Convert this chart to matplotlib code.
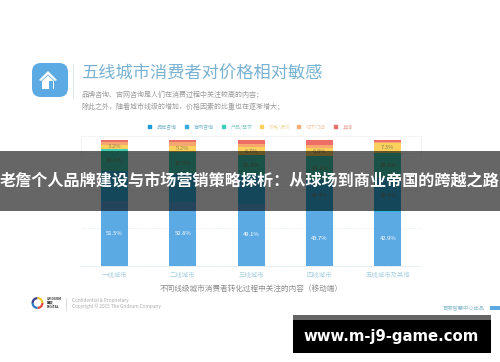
import matplotlib
matplotlib.use("Agg")
import numpy as np
import matplotlib.pyplot as plt
from matplotlib.patches import FancyBboxPatch, Rectangle, Polygon, Wedge

plt.rcParams['font.family'] = ['Noto Sans CJK SC', 'DejaVu Sans']

# === Data ===
cities = ["一线城市", "二线城市", "三线城市", "四线城市", "五线城市及其他"]
series_names = ["品牌咨询", "官网咨询", "产品/需求", "价格/报价", "线下门店", "其他"]
brand = [51.5, 50.8, 49.1, 43.7, 42.9]
website = [23.5, 22.0, 23.3, 24.3, 26.5]
product = [18.1, 17.5, 15.3, 19.2, 20.6]
price = [3.2, 5.2, 6.7, 6.8, 7.3]
offline = [2.4, 3.0, 2.4, 2.3, 1.5]
other = [1.3, 1.5, 3.2, 3.7, 1.2]
all_series = [brand, website, product, price, offline, other]

# which bars carry a readable value label, per series (the rest sit behind the banner text)
labelled = [
    [True, True, True, True, True],
    [False, False, False, True, True],
    [True, True, True, True, True],
    [True, True, True, True, True],
    [False, False, False, False, False],
    [False, False, False, False, False],
]

bar_colors = ["#5BAAE4", "#34B2E0", "#45CDB4", "#FBD05C", "#F6A86E", "#EC6E66"]
legend_colors = ["#1E9AD6", "#38A9DC", "#3FCDBB", "#FBD05C", "#F3AE78", "#E96F6B"]
legend_text_colors = ["#7FB8CC", "#7FB8CC", "#8CCFC4", "#EBD9A0", "#EFC5A5", "#E9A5A0"]
legend_x = [150, 187, 224, 262, 299, 336]

title = "五线城市消费者对价格相对敏感"
sub1 = "品牌咨询、官网咨询是人们在消费过程中关注较高的内容；"
sub2 = "除此之外，随着城市线级的增加，价格因素的比重也在逐渐增大；"
caption = "不同线级城市消费者转化过程中关注的内容（移动端）"
banner = "老詹个人品牌建设与市场营销策略探析：从球场到商业帝国的跨越之路"
site = "www.m-j9-game.com"

W, H = 500, 362
fig = plt.figure(figsize=(W / 100, H / 100), dpi=100, facecolor="white")

# === Stacked bars ===
ax = fig.add_axes([81 / W, 1 - 265.5 / H, 340 / W, 129.5 / H], zorder=1)
ax.patch.set_alpha(0)
x = np.arange(len(cities))
bottom = np.zeros(len(cities))
for vals, col, show in zip(all_series, bar_colors, labelled):
    vals = np.array(vals)
    ax.bar(x, vals, width=0.395, bottom=bottom, color=col, zorder=3)
    for xi, b, v, s in zip(x, bottom, vals, show):
        if s:
            tc = "white" if col == bar_colors[0] else "#8a7f5a"
            ax.text(xi, b + v / 2, f"{v:.1f}%", ha="center", va="center",
                    fontsize=4.2, color=tc, zorder=4)
    bottom += vals

ax.set_xlim(-0.487, 4.483)
ax.set_ylim(0, 103.2)
ax.set_yticks([0, 30, 60, 90])
ax.set_yticklabels([])
ax.set_xticks(x)
ax.set_xticklabels(cities, fontsize=4.6, color="#A8CFE0")
ax.tick_params(length=0, pad=4)
ax.grid(axis="y", color="#D8E8EF", linestyle=":", linewidth=0.6, zorder=0)
for side in ["left", "right", "top"]:
    ax.spines[side].set_color("#EFEFEF")
    ax.spines[side].set_linestyle(":")
    ax.spines[side].set_linewidth(0.6)
ax.spines["left"].set_bounds(88, 103.2)
ax.spines["right"].set_bounds(88, 103.2)
ax.spines["bottom"].set_color("#D8E8EF")
ax.spines["bottom"].set_linestyle(":")
ax.spines["bottom"].set_linewidth(0.6)

# === Everything else, in pixel coords ===
deco = fig.add_axes([0, 0, 1, 1], zorder=2)
deco.set_xlim(0, W)
deco.set_ylim(H, 0)
deco.axis("off")
deco.patch.set_alpha(0)

# icon
deco.add_patch(FancyBboxPatch((38, 69), 24, 22, boxstyle="round,pad=6,rounding_size=9",
                              fc="#5BAAE4", ec="none"))
deco.add_patch(Polygon([[39, 80], [48, 71], [57, 80], [55, 81], [48, 74.5], [41, 81]], fc="white", ec="none"))
deco.add_patch(Polygon([[42, 81], [48, 75.5], [54, 81], [54, 89], [42, 89]], fc="white", ec="none"))
deco.add_patch(Rectangle((49, 81), 3.5, 8, fc="#5BAAE4", ec="none"))
deco.plot([73, 73], [64, 98], color="#D5E3EA", lw=0.6)

# heading
deco.text(81, 74, title, fontsize=12.4, color="#78B2D2", va="center", ha="left")
deco.text(81, 94, sub1, fontsize=5, color="#9A9A9A", va="center", ha="left")
deco.text(81, 106, sub2, fontsize=5, color="#9A9A9A", va="center", ha="left")

# legend
for lx, name, col, tc in zip(legend_x, series_names, legend_colors, legend_text_colors):
    deco.add_patch(FancyBboxPatch((lx - 1.8, 125.2), 3.6, 3.6, boxstyle="round,pad=0.4,rounding_size=1",
                                  fc=col, ec="none"))
    deco.text(lx + 6.5, 127.2, name, fontsize=3.6, color=tc, va="center", ha="left")

deco.text(250.7, 288.5, caption, fontsize=5.5, color="#8C8C8C", va="center", ha="center")

# footer
for a1, a2, col in [(0, 90, "#E8483F"), (90, 180, "#2E7CC4"), (180, 270, "#3C3C8C"), (270, 360, "#F2C82E")]:
    deco.add_patch(Wedge((37.5, 303), 6, a1, a2, width=2.2, fc=col, ec="none"))
deco.text(46.5, 298.5, "GRIDSUM", fontsize=2.4, color="#333333", va="center", fontweight="bold")
deco.text(46.5, 302.5, "国双", fontsize=2.4, color="#333333", va="center", fontweight="bold")
deco.text(46.5, 306.5, "DIGITAL", fontsize=2.4, color="#333333", va="center", fontweight="bold")
deco.plot([66, 66], [298, 310], color="#CCCCCC", lw=0.5)
deco.text(72, 300.5, "Confidential & Proprietary", fontsize=3.4, color="#AAAAAA", va="center")
deco.text(72, 306.3, "Copyright © 2015 The Gridsum Company", fontsize=3.4, color="#AAAAAA", va="center")
deco.text(443, 308, "百度智慧中心出品", fontsize=3.8, color="#8FBFCF", va="center")
deco.add_patch(Rectangle((490, 306), 10, 4, fc="#5BAAE4", ec="none"))

# banner over the chart
deco.add_patch(Rectangle((0, 151), W, 60, fc="black", alpha=0.6, ec="none"))
deco.text(249.5, 181, banner, fontsize=11.6, color="white", va="center", ha="center", fontweight="bold")

# site tag
deco.add_patch(Rectangle((293, 315), 198, 5, fc="#666666", ec="none"))
deco.add_patch(Rectangle((293, 320), 198, 33, fc="black", ec="none"))
deco.text(391.5, 336.5, site, fontsize=10.7, color="white", va="center", ha="center",
          fontweight="bold", family="DejaVu Sans")

plt.savefig("out.png", dpi=100)
